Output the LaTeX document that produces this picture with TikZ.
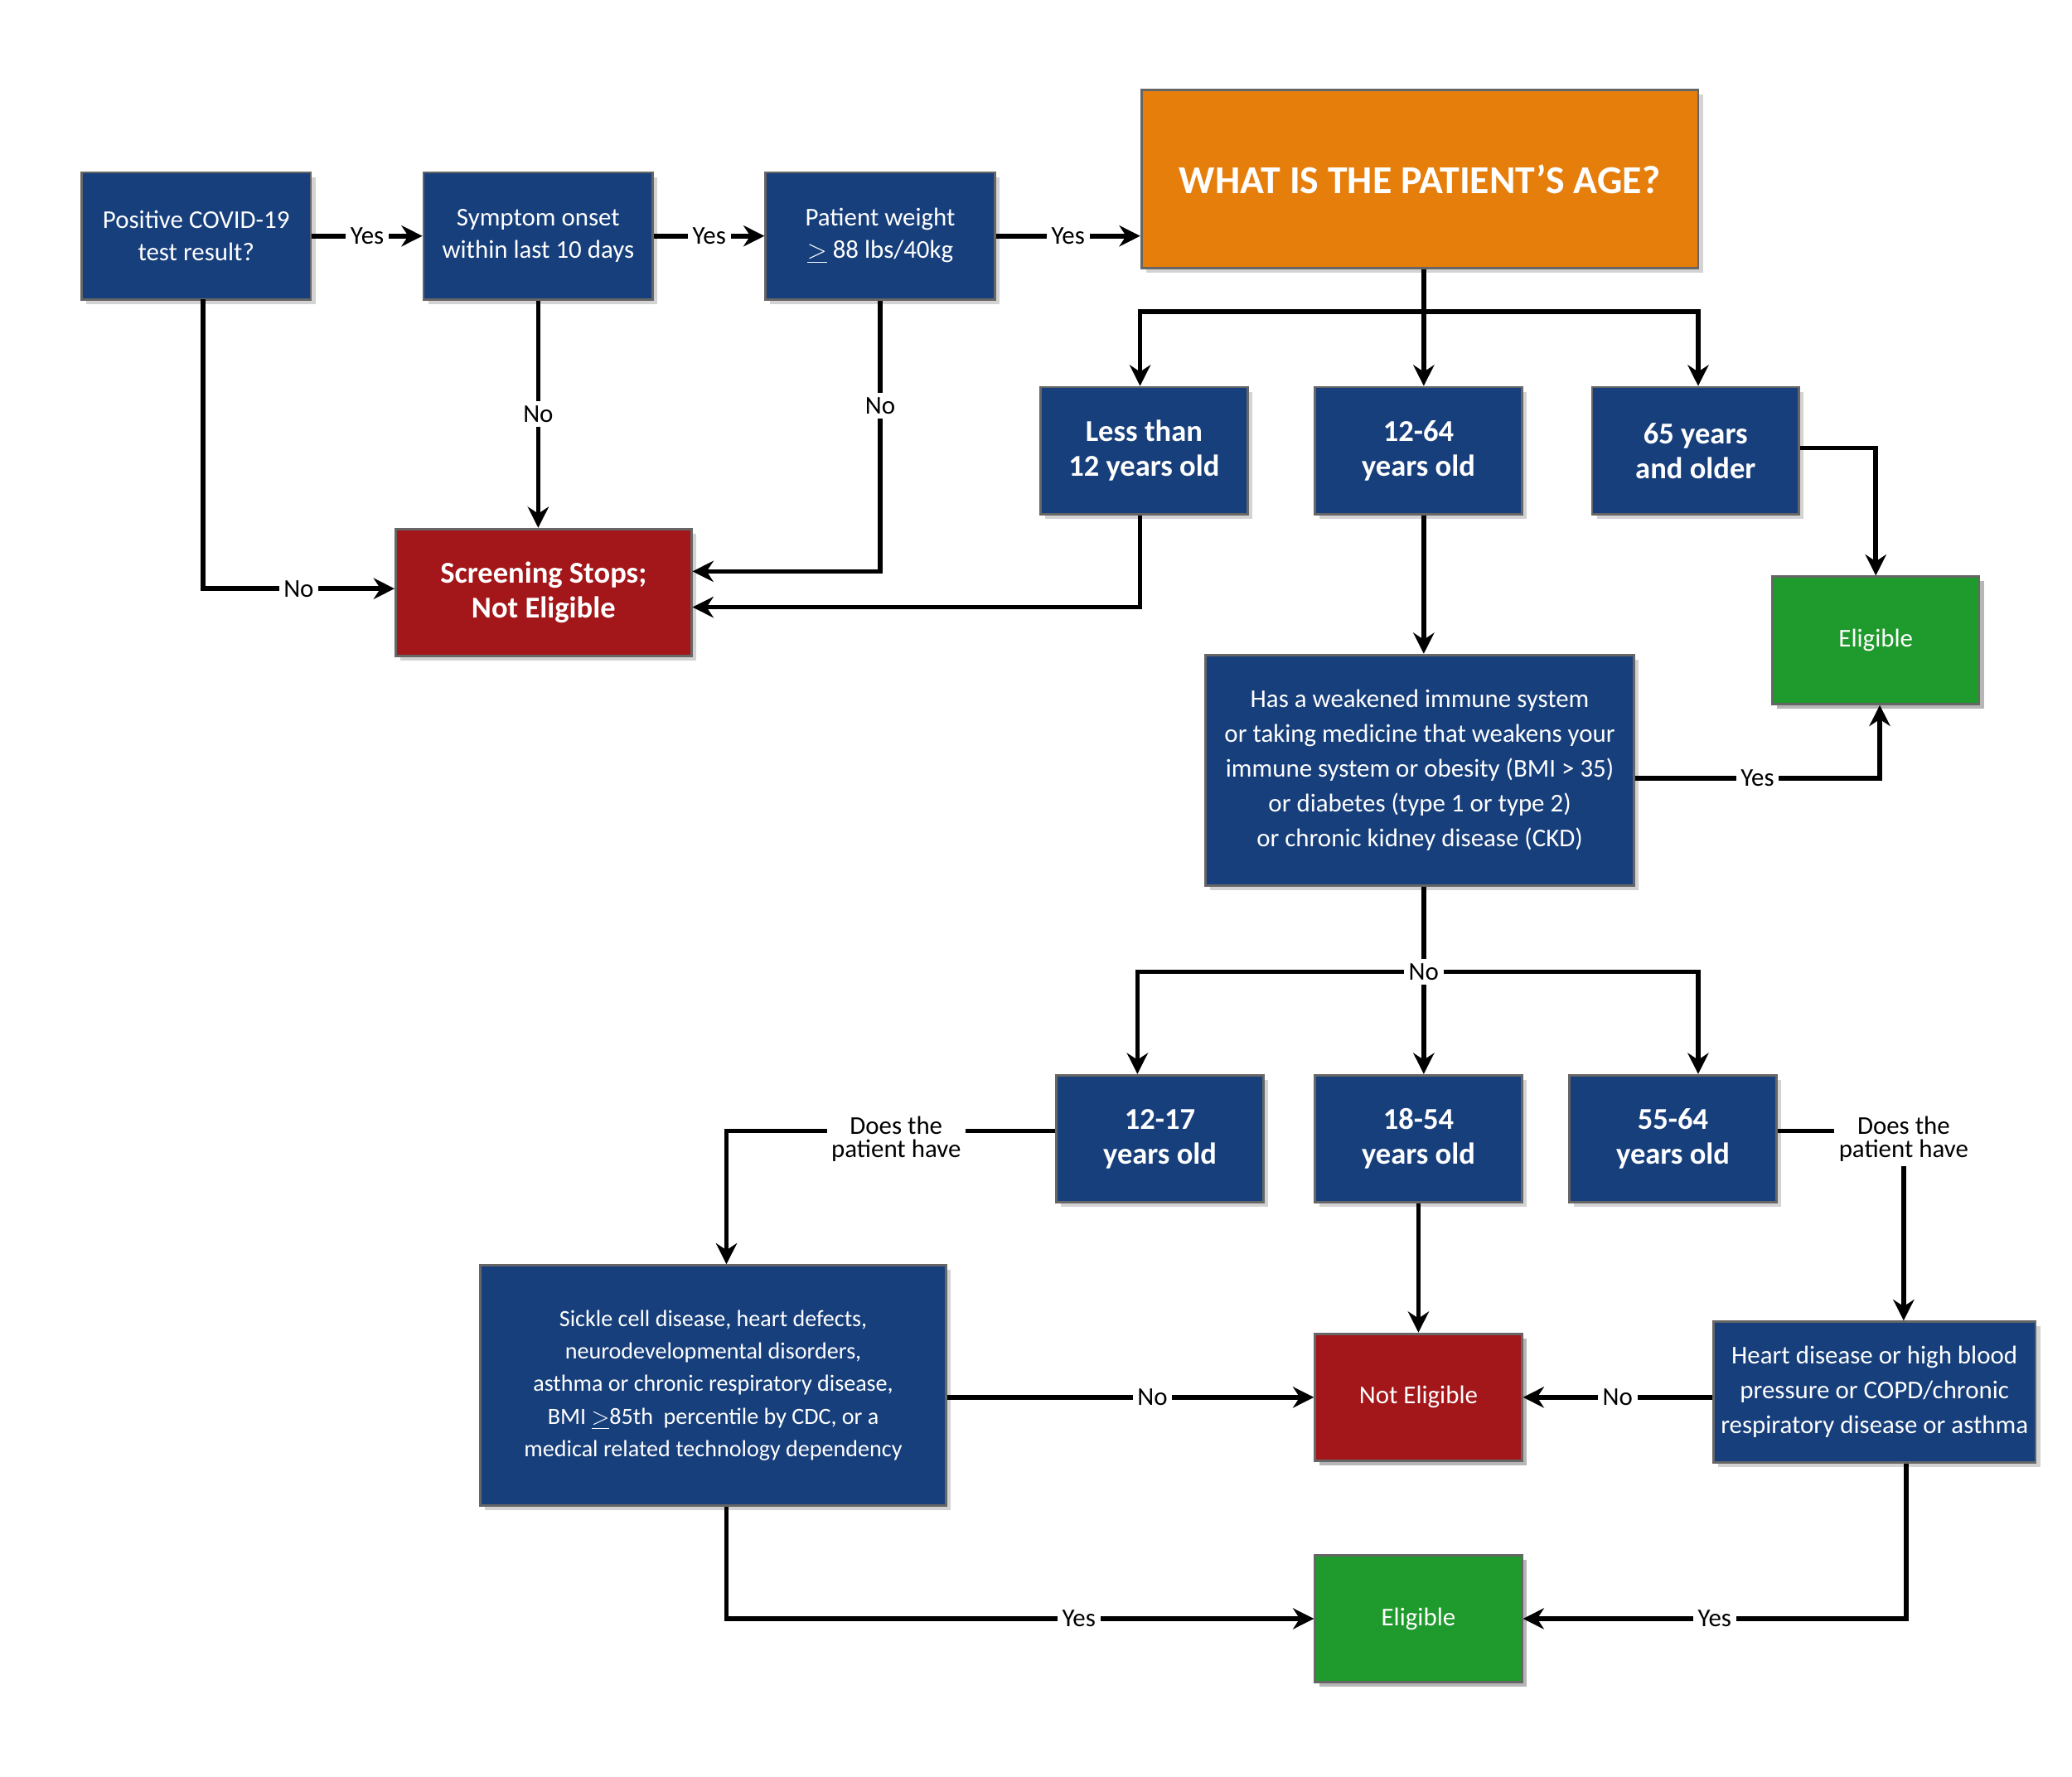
\documentclass[tikz,border=0pt]{standalone}
\usepackage{fontspec}
\setmainfont{Carlito}
\usetikzlibrary{positioning, arrows.meta, shadows}
\definecolor{boxblue}{HTML}{173F7C}
\definecolor{boxorange}{HTML}{E67E0C}
\definecolor{boxred}{HTML}{A3161A}
\definecolor{boxgreen}{HTML}{1F9A2C}
\tikzset{
  box/.style={draw=black!60, line width=1pt, fill=#1, text=white, align=center,
    inner sep=0pt, drop shadow={shadow xshift=2pt, shadow yshift=-2pt, opacity=0.35},
    font=\fontsize{11}{14}\selectfont},
  small/.style={box=boxblue, minimum width=173*0.02cm, minimum height=96*0.02cm},
  age/.style={box=boxblue, minimum width=156*0.02cm, minimum height=96*0.02cm,
    font=\fontsize{13}{15}\selectfont\bfseries},
  lbl/.style={fill=white, inner sep=2pt, font=\fontsize{11}{11}\selectfont},
  line/.style={line width=2pt},
  arr/.style={line width=2pt, -{Stealth[length=9pt,width=9pt]}}
}
\begin{document}
\begin{tikzpicture}[x=0.02cm, y=-0.02cm]
  \useasboundingbox (0,0) rectangle (1563,1340);
  % top row
  \node[small] (covid) at (148,178) {Positive COVID-19\\test result?};
  \node[small] (onset) at (406,178) {Symptom onset\\within last 10 days};
  \node[small] (weight) at (664,178) {Patient weight\\$\underline{>}$ 88 lbs/40kg};
  \node[box=boxorange, minimum width=420*0.02cm, minimum height=134*0.02cm,
    font=\fontsize{17}{19}\selectfont\bfseries] (ask) at (1071,135) {WHAT IS THE PATIENT’S AGE?};
  \node[box=boxred, minimum width=223*0.02cm, minimum height=96*0.02cm,
    font=\fontsize{13}{15}\selectfont\bfseries] (stop) at (410,447) {Screening Stops;\\Not Eligible};
  % age groups
  \node[age] (under12) at (863,340) {Less than\\12 years old};
  \node[age] (mid) at (1070,340) {12-64\\years old};
  \node[age] (over65) at (1279,340) {65 years\\and older};
  \node[age, box=boxgreen] (elig) at (1415,483) {Eligible};
  \node[box=boxblue, minimum width=323*0.02cm, minimum height=174*0.02cm,
    font=\fontsize{11}{15}\selectfont] (immune) at (1071,581)
    {Has a weakened immune system\\or taking medicine that weakens your\\immune system or obesity (BMI > 35)\\or diabetes (type 1 or type 2)\\or chronic kidney disease (CKD)};
  \node[age] (teen) at (875,859) {12-17\\years old};
  \node[age] (adult) at (1070,859) {18-54\\years old};
  \node[age] (older) at (1262,859) {55-64\\years old};
  \node[box=boxblue, minimum width=351*0.02cm, minimum height=181*0.02cm,
    font=\fontsize{10}{14}\selectfont] (sickle) at (538,1045)
    {Sickle cell disease, heart defects,\\neurodevelopmental disorders,\\asthma or chronic respiratory disease,\\BMI $\underline{>}$85th\ \ percentile by CDC, or a\\medical related technology dependency};
  \node[age, box=boxred] (noelig) at (1070,1054) {Not Eligible};
  \node[box=boxblue, minimum width=243*0.02cm, minimum height=106*0.02cm,
    font=\fontsize{11}{15}\selectfont] (heart) at (1414,1050)
    {Heart disease or high blood\\pressure or COPD/chronic\\respiratory disease or asthma};
  \node[age, box=boxgreen] (elig2) at (1070,1221) {Eligible};

  % top row connectors
  \draw[arr] (covid) -- node[lbl] {Yes} (onset);
  \draw[arr] (onset) -- node[lbl] {Yes} (weight);
  \draw[arr] (weight.east) -- node[lbl] {Yes} (weight.east -| ask.west);
  \draw[arr] (153,226) |- node[lbl, pos=0.75] {No} (stop.west |- 0,444);
  \draw[arr] (onset) -- node[lbl] {No} (stop.north -| onset);
  \draw[arr] (weight.south) |- (stop.east |- 0,431);
  \node[lbl] at (664,306) {No};
  \draw[arr] (under12.south -| 860,0) |- (stop.east |- 0,458);
  % age split
  \coordinate (split) at (1074,235);
  \draw[line] (ask.south -| split) -- (split);
  \draw[arr] (split) -| (under12.north -| 860,0);
  \draw[arr] (split) -- (mid.north -| split);
  \draw[arr] (split) -| (over65.north -| 1281,0);
  \draw[arr] (over65.east |- 0,338) -| (elig.north);
  \draw[arr] (mid.south -| split) -- (immune.north -| split);
  \draw[arr] (immune.east |- 0,587) -| node[lbl, pos=0.25] {Yes} (elig.south -| 1418,0);
  % second split
  \coordinate (split2) at (1074,733);
  \draw[line] (immune.south -| split2) -- (split2);
  \draw[arr] (split2) -| (teen.north -| 858,0);
  \draw[arr] (split2) -| (older.north -| 1281,0);
  \draw[arr] (split2) -- (adult.north -| split2);
  \node[lbl] at (split2) {No};
  \draw[arr] (teen.west |- 0,853) -| (sickle.north -| 548,0);
  \node[lbl, align=center, font=\fontsize{11}{10}\selectfont] at (676,859) {Does the\\patient have};
  \draw[arr] (older.east |- 0,853) -| (heart.north -| 1436,0);
  \node[lbl, align=center, font=\fontsize{11}{10}\selectfont] at (1436,859) {Does the\\patient have};
  \draw[arr] (adult) -- (noelig);
  \draw[arr] (sickle.east |- noelig) -- node[lbl, pos=0.56] {No} (noelig);
  \draw[arr] (heart.west |- noelig) -- node[lbl] {No} (noelig);
  \draw[arr] (sickle.south -| 548,0) |- node[lbl, pos=0.8] {Yes} (elig2);
  \draw[arr] (heart.south -| 1438,0) |- node[lbl, pos=0.75] {Yes} (elig2);
\end{tikzpicture}
\end{document}
